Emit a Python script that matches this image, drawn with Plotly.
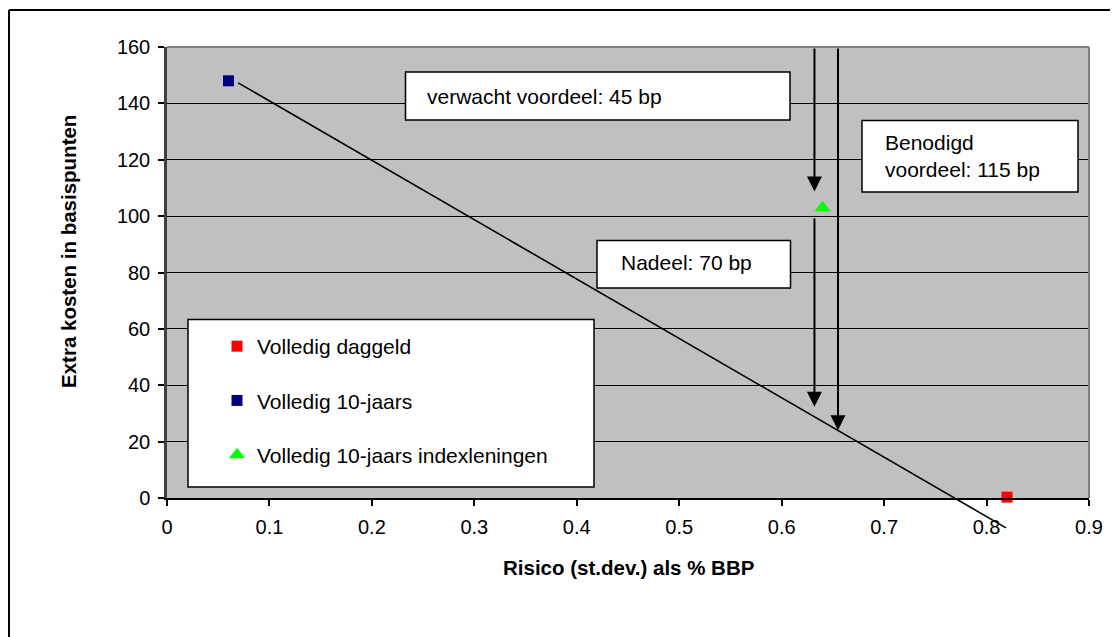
import plotly.graph_objects as go

# ---- data ----
daggeld_x = [0.82]
daggeld_y = [0.3]
tienjaars_x = [0.06]
tienjaars_y = [148]
index_x = [0.64]
index_y = [103]

trend_x = [0.068, 0.819]
trend_y = [147.6, -10.6]

# vertical arrows: x, start y, end (tip) y
arrow_x = [0.632, 0.632, 0.655]
arrow_y0 = [160, 99.7, 160]
arrow_y1 = [108.7, 32.4, 24.0]

x_ticks = [0, 0.1, 0.2, 0.3, 0.4, 0.5, 0.6, 0.7, 0.8, 0.9]
x_ticklabels = ["0", "0.1", "0.2", "0.3", "0.4", "0.5", "0.6", "0.7", "0.8", "0.9"]
y_ticks = [0, 20, 40, 60, 80, 100, 120, 140, 160]

series_names = ["Volledig daggeld", "Volledig 10-jaars", "Volledig 10-jaars indexleningen"]
box_texts = ["verwacht voordeel: 45 bp", "Benodigd<br>voordeel: 115 bp", "Nadeel: 70 bp"]
x_title = "Risico (st.dev.) als % BBP"
y_title = "Extra kosten in basispunten"

FONT = "Liberation Sans, Arial, sans-serif"
OFF = 8  # page body margin
W, H = 1118 - OFF, 637 - OFF
L, R, T, B = 167, 1089, 47, 498  # plot area in screen pixels


def px(xp):
    return (xp - L) / (R - L)


def py(yp):
    return (B - yp) / (B - T)


fig = go.Figure()
fig.add_trace(go.Scatter(x=daggeld_x, y=daggeld_y, mode="markers", name=series_names[0],
                         legendgroup="a",
                         marker=dict(symbol="square", size=11, color="#FF0000"), cliponaxis=False))
fig.add_trace(go.Scatter(x=tienjaars_x, y=tienjaars_y, mode="markers", name=series_names[1],
                         legendgroup="b",
                         marker=dict(symbol="square", size=11, color="#000080"), cliponaxis=False))
fig.add_trace(go.Scatter(x=index_x, y=index_y, mode="markers", name=series_names[2],
                         legendgroup="c",
                         marker=dict(symbol="triangle-up", size=14, color="#00FF00"), cliponaxis=False))

shapes = []
# outer frame (left + top edge)
shapes.append(dict(type="line", xref="paper", yref="paper", x0=px(9), x1=px(9), y0=py(10), y1=py(660),
                   line=dict(color="#000000", width=2)))
shapes.append(dict(type="line", xref="paper", yref="paper", x0=px(9), x1=px(1130), y0=py(10), y1=py(10),
                   line=dict(color="#000000", width=2)))
# plot area top / right border
shapes.append(dict(type="line", xref="paper", yref="paper", x0=0, x1=1, y0=1, y1=1,
                   line=dict(color="#808080", width=2), layer="above"))
shapes.append(dict(type="line", xref="paper", yref="paper", x0=1, x1=1, y0=0, y1=1,
                   line=dict(color="#808080", width=2), layer="above"))
# text boxes
boxes = [(405.5, 72, 790, 120), (862, 120.5, 1078, 192), (597, 240.5, 790.5, 288), (188, 319.5, 594, 487)]
for (x0, y0, x1, y1) in boxes:
    shapes.append(dict(type="rect", xref="paper", yref="paper", x0=px(x0), x1=px(x1), y0=py(y1), y1=py(y0),
                       fillcolor="white", line=dict(color="#000000", width=1.5), layer="above"))

annotations = []
# trend line
annotations.append(dict(x=trend_x[1], y=trend_y[1], ax=trend_x[0], ay=trend_y[0], xref="x", yref="y",
                        axref="x", ayref="y", text="", showarrow=True, arrowhead=0, arrowwidth=1.6,
                        arrowcolor="#000000", standoff=0, startstandoff=0))
# vertical arrows
for xa, y0, y1 in zip(arrow_x, arrow_y0, arrow_y1):
    annotations.append(dict(x=xa, y=y1, ax=xa, ay=y0, xref="x", yref="y", axref="x", ayref="y",
                            text="", showarrow=True, arrowhead=2, arrowsize=1.5, arrowwidth=2,
                            arrowcolor="#000000", standoff=0))
# box texts
text_pos = [(425, 96), (883, 156), (619, 263)]
for t, (tx, ty) in zip(box_texts, text_pos):
    annotations.append(dict(x=px(tx), y=py(ty), xref="paper", yref="paper", text=t, showarrow=False,
                            xanchor="left", yanchor="middle", align="left",
                            font=dict(family=FONT, size=21, color="#000000")))
# axis titles
annotations.append(dict(x=px(628), y=py(567), xref="paper", yref="paper", text="<b>" + x_title + "</b>",
                        showarrow=False, xanchor="center", yanchor="middle",
                        font=dict(family=FONT, size=20.5, color="#000000")))
annotations.append(dict(x=px(68), y=py(252), xref="paper", yref="paper", text="<b>" + y_title + "</b>",
                        showarrow=False, xanchor="center", yanchor="middle", textangle=-90,
                        font=dict(family=FONT, size=20.5, color="#000000")))

fig.update_layout(
    width=W, height=H,
    margin=dict(l=L - OFF, r=W - (R - OFF), t=T - OFF, b=H - (B - OFF), autoexpand=False),
    paper_bgcolor="white",
    plot_bgcolor="#C0C0C0",
    font=dict(family=FONT, size=20, color="#000000"),
    shapes=shapes,
    annotations=annotations,
    showlegend=True,
    legend=dict(x=px(217), y=py(326), xanchor="left", yanchor="top", bgcolor="rgba(0,0,0,0)",
                borderwidth=0, tracegroupgap=24, font=dict(family=FONT, size=21, color="#000000"),
                itemwidth=30),
    xaxis=dict(range=[0, 0.9], tickvals=x_ticks, ticktext=x_ticklabels, showgrid=False, zeroline=False,
               showline=True, linecolor="#000000", linewidth=1.5, ticks="outside", ticklen=6,
               tickcolor="#000000", tickwidth=1.5, tickfont=dict(family=FONT, size=20),
               ticklabelstandoff=4, fixedrange=True),
    yaxis=dict(range=[0, 160], tickvals=y_ticks, showgrid=True, gridcolor="#000000", gridwidth=1,
               zeroline=False, showline=True, linecolor="#404040", linewidth=2.5, ticks="outside",
               ticklen=6, tickcolor="#000000", tickwidth=1.5, tickfont=dict(family=FONT, size=20),
               ticklabelstandoff=4, fixedrange=True),
)

fig.write_html("out.html")
